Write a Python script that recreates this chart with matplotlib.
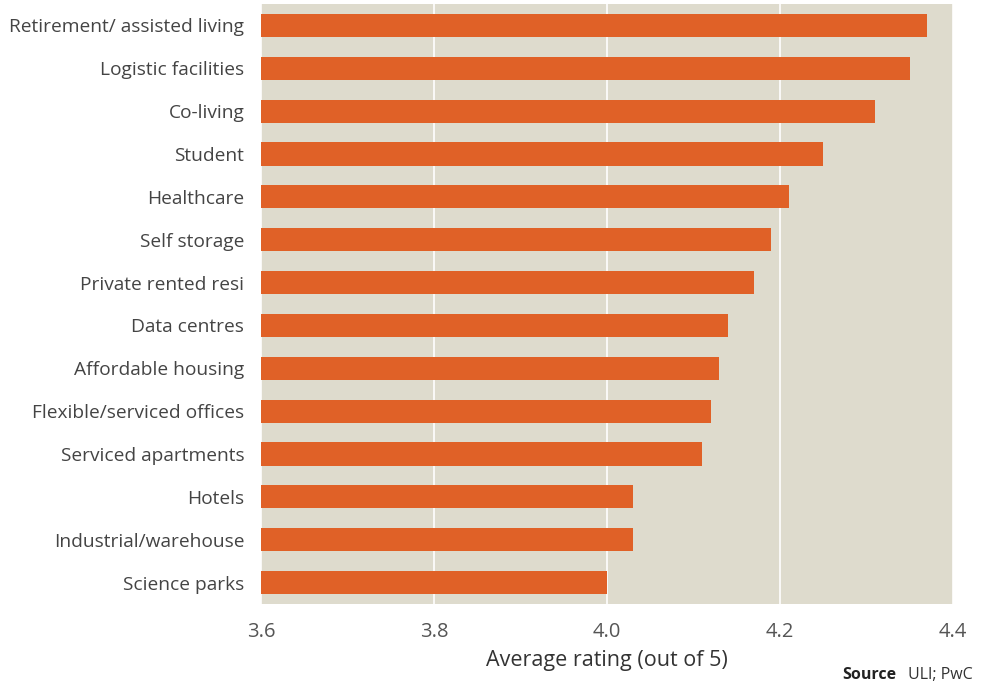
import matplotlib
matplotlib.use("Agg")
import matplotlib.pyplot as plt

categories = ["Retirement/ assisted living", "Logistic facilities", "Co-living", "Student",
              "Healthcare", "Self storage", "Private rented resi", "Data centres",
              "Affordable housing", "Flexible/serviced offices", "Serviced apartments",
              "Hotels", "Industrial/warehouse", "Science parks"]
values = [4.37, 4.35, 4.31, 4.25, 4.21, 4.19, 4.17, 4.14, 4.13, 4.12, 4.11, 4.03, 4.03, 4.00]
xticks = [3.6, 3.8, 4.0, 4.2, 4.4]

plt.rcParams['font.family'] = ['Open Sans', 'DejaVu Sans']

fig = plt.figure(figsize=(9.82, 6.83), dpi=100)
ax = fig.add_axes([261/982, 79/683, 692/982, 600/683])
ax.set_facecolor("#DEDBCD")
y = list(range(len(categories)))
ax.barh(y, [v - 3.6 for v in values], left=3.6, height=0.54, color="#E06127", zorder=3)
ax.set_ylim(len(categories) - 0.5, -0.5)
ax.set_xlim(3.6, 4.4)
ax.set_xticks(xticks)
ax.set_xticklabels([f"{t:.1f}" for t in xticks], fontsize=14.5, color="#555555")
ax.set_yticks(y)
ax.set_yticklabels(categories, fontsize=13.8, color="#444444")
ax.tick_params(axis='both', length=0)
ax.tick_params(axis='y', pad=12)
ax.tick_params(axis='x', pad=13)
ax.grid(axis='x', color="white", linewidth=1.2, zorder=1)
for s in ax.spines.values():
    s.set_visible(False)
ax.set_xlabel("Average rating (out of 5)", fontsize=15.5, color="#333333", labelpad=6)
fig.text(842/982, 8/683, "Source", fontsize=11.5, color="#222222", ha="left", va="center", fontweight="bold")
fig.text(908/982, 8/683, "ULI; PwC", fontsize=11.5, color="#333333", ha="left", va="center")
fig.savefig("out.png", dpi=100)
